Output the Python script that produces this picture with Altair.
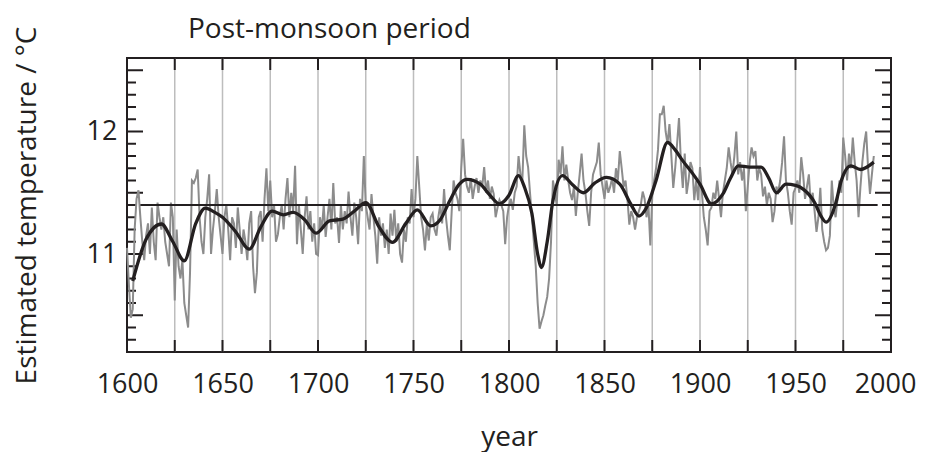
import altair as alt
import pandas as pd

# ---------------- data ----------------
start_year = 1600
annual_temp = [
    11.05, 10.75, 10.48, 10.55, 11.20, 11.45, 11.52, 11.30, 11.10, 10.95,  # 1600s
    11.15, 11.25, 11.00, 11.38, 11.10, 10.95, 11.42, 11.30, 11.20, 11.30,  # 1610s
    11.10, 11.00, 10.90, 11.42, 11.30, 10.62, 11.20, 10.90, 10.80, 10.95,  # 1620s
    10.60, 10.50, 10.40, 10.85, 11.60, 11.58, 11.62, 11.69, 11.30, 11.10,  # 1630s
    11.00, 11.30, 11.45, 11.65, 11.00, 11.20, 11.35, 11.53, 11.30, 11.15,  # 1640s
    11.00, 11.30, 11.40, 11.20, 10.95, 11.30, 11.25, 11.05, 11.38, 11.20,  # 1650s
    11.00, 11.20, 11.10, 10.95, 11.25, 11.35, 10.90, 10.68, 10.85, 11.30,  # 1660s
    11.35, 11.10, 11.45, 11.70, 11.35, 11.60, 11.30, 11.40, 11.10, 11.16,  # 1670s
    11.30, 11.40, 11.20, 11.45, 11.62, 11.30, 11.50, 11.35, 11.72, 11.08,  # 1680s
    11.40, 11.20, 11.00, 11.30, 11.47, 11.20, 11.35, 11.10, 11.25, 11.00,  # 1690s
    10.99, 11.30, 11.20, 11.40, 11.14, 11.30, 11.45, 11.20, 11.58, 11.25,  # 1700s
    11.30, 11.09, 11.40, 11.20, 11.35, 11.25, 11.51, 11.30, 11.15, 11.42,  # 1710s
    11.30, 11.08, 11.45, 11.35, 11.80, 11.40, 11.30, 11.20, 11.49, 11.30,  # 1720s
    11.15, 10.92, 11.30, 11.15, 11.25, 11.05, 11.20, 11.00, 11.33, 11.15,  # 1730s
    11.36, 11.10, 11.25, 11.00, 10.93, 11.20, 11.10, 11.30, 11.25, 11.53,  # 1740s
    11.30, 11.45, 11.80, 11.55, 11.30, 11.20, 11.03, 11.25, 11.11, 11.30,  # 1750s
    11.33, 11.20, 11.15, 11.30, 11.40, 11.25, 11.53, 11.30, 11.15, 11.03,  # 1760s
    11.35, 11.60, 11.50, 11.45, 11.35, 11.70, 11.94, 11.65, 11.55, 11.50,  # 1770s
    11.62, 11.45, 11.55, 11.62, 11.50, 11.60, 11.55, 11.71, 11.50, 11.60,  # 1780s
    11.45, 11.55, 11.49, 11.30, 11.38, 11.44, 11.40, 11.35, 11.08, 11.30,  # 1790s
    11.40, 11.45, 11.36, 11.50, 11.55, 11.80, 11.65, 11.60, 12.05, 11.80,  # 1800s
    11.71, 11.50, 11.30, 11.10, 10.90, 10.60, 10.39, 10.45, 10.50, 10.58,  # 1810s
    10.65, 10.80, 11.10, 11.60, 11.50, 11.40, 11.77, 11.65, 11.88, 11.60,  # 1820s
    11.73, 11.60, 11.50, 11.44, 11.55, 11.31, 11.50, 11.65, 11.82, 11.60,  # 1830s
    11.50, 11.35, 11.23, 11.50, 11.65, 11.70, 11.75, 11.91, 11.65, 11.55,  # 1840s
    11.45, 11.60, 11.50, 11.55, 11.62, 11.50, 11.70, 11.60, 11.84, 11.70,  # 1850s
    11.55, 11.60, 11.45, 11.24, 11.35, 11.30, 11.20, 11.30, 11.35, 11.40,  # 1860s
    11.51, 11.45, 11.30, 11.40, 11.07, 11.47, 11.60, 11.70, 11.85, 12.14,  # 1870s
    12.14, 12.21, 12.00, 11.90, 12.06, 11.80, 11.54, 11.70, 11.90, 12.11,  # 1880s
    11.75, 11.54, 11.82, 11.49, 11.60, 11.75, 11.70, 11.44, 11.60, 11.44,  # 1890s
    11.71, 11.50, 11.30, 11.20, 11.07, 11.35, 11.38, 11.50, 11.45, 11.60,  # 1900s
    11.45, 11.30, 11.50, 11.60, 11.70, 11.87, 11.75, 11.65, 11.80, 12.00,  # 1910s
    11.65, 11.75, 11.60, 11.70, 11.35, 11.55, 11.75, 11.87, 11.80, 11.84,  # 1920s
    11.60, 11.70, 11.65, 11.47, 11.55, 11.40, 11.50, 11.45, 11.26, 11.35,  # 1930s
    11.55, 11.51, 11.60, 11.75, 11.96, 11.60, 11.50, 11.35, 11.24, 11.50,  # 1940s
    11.54, 11.60, 11.50, 11.79, 11.65, 11.45, 11.55, 11.65, 11.40, 11.50,  # 1950s
    11.35, 11.18, 11.30, 11.54, 11.20, 11.10, 11.03, 11.05, 11.15, 11.60,  # 1960s
    11.38, 11.30, 11.45, 11.60, 11.50, 11.95, 11.80, 11.60, 11.82, 11.70,  # 1970s
    11.95, 11.75, 11.60, 11.30, 11.55, 11.75, 11.90, 12.00, 11.70, 11.49,  # 1980s
    11.65, 11.80,                                                          # 1990s
]
annual_years = list(range(start_year, start_year + len(annual_temp)))

smooth_years = [1603, 1610, 1618, 1624, 1630, 1636, 1641, 1646, 1650, 1657,
                1664, 1670, 1676, 1682, 1687, 1693, 1699, 1706, 1713, 1719,
                1725, 1732, 1739, 1746, 1752, 1759, 1764, 1769, 1774, 1778,
                1785, 1790, 1795, 1800, 1805, 1808, 1812, 1815, 1817, 1820,
                1823, 1828, 1833, 1839, 1845, 1851, 1858, 1864, 1868, 1872,
                1877, 1883, 1887, 1891, 1896, 1900, 1906, 1912, 1916, 1920,
                1926, 1932, 1936, 1940, 1945, 1950, 1954, 1960, 1963, 1966,
                1971, 1974, 1979, 1984, 1991]
smooth_temp = [10.78, 11.12, 11.245, 11.10, 10.945, 11.25, 11.375, 11.34, 11.30, 11.18,
               11.04, 11.22, 11.35, 11.32, 11.34, 11.28, 11.17, 11.27, 11.285, 11.35,
               11.42, 11.22, 11.095, 11.25, 11.36, 11.23, 11.28, 11.435, 11.57, 11.61,
               11.57, 11.48, 11.41, 11.48, 11.64, 11.55, 11.33, 11.00, 10.89, 11.10,
               11.435, 11.64, 11.57, 11.50, 11.58, 11.625, 11.57, 11.40, 11.31, 11.38,
               11.60, 11.91, 11.85, 11.76, 11.66, 11.57, 11.41, 11.49, 11.62, 11.72,
               11.71, 11.71, 11.62, 11.50, 11.57, 11.56, 11.53, 11.42, 11.32, 11.26,
               11.41, 11.60, 11.72, 11.69, 11.75]

mean_temp = 11.4
mean_start, mean_end = 1607, 1993

grid_years = [1625, 1650, 1675, 1700, 1725, 1750, 1775, 1800, 1825, 1850,
              1875, 1900, 1925, 1950, 1975]
x_tick_labels = [1600, 1650, 1700, 1750, 1800, 1850, 1900, 1950, 2000]
y_tick_labels = [11, 12]
y_major_ticks = [10.5, 11.0, 11.5, 12.0, 12.5]
y_minor_ticks = [10.3, 10.4, 10.6, 10.7, 10.8, 10.9, 11.1, 11.2, 11.3, 11.4,
                 11.6, 11.7, 11.8, 11.9, 12.1, 12.2, 12.3, 12.4]
title_text = ["Post-monsoon period"]

# ---------------- style ----------------
W, H = 764, 294
FONT = "Open Sans"
INK = "#231f20"

annual_df = pd.DataFrame({"year": annual_years, "temp": annual_temp})
smooth_df = pd.DataFrame({"year": smooth_years, "temp": smooth_temp})
grid_df = pd.DataFrame({"year": grid_years})
major_df = pd.DataFrame({"v": y_major_ticks})
minor_df = pd.DataFrame({"v": y_minor_ticks})
mean_df = pd.DataFrame({"x1": [mean_start], "x2": [mean_end], "y": [mean_temp]})
title_df = pd.DataFrame({"t": title_text})

xscale = alt.Scale(domain=[1600, 2000], nice=False, zero=False)
yscale = alt.Scale(domain=[10.2, 12.6], nice=False, zero=False)

x_axis = alt.Axis(
    values=x_tick_labels, format="d", grid=False, domain=False, ticks=False,
    tickSize=0, labelFontSize=27, labelPadding=19, labelFont=FONT,
    labelColor=INK, labelFlush=False,
    labelOffset={"condition": {"test": "datum.value == 2000", "value": -6},
                 "value": 0},
    title="year", titleFont=FONT,
    titleFontSize=28, titleFontWeight="normal", titleColor=INK,
    titleX=382, titleY=93, titleBaseline="alphabetic", titleAlign="center",
)
y_axis = alt.Axis(
    values=y_tick_labels, format="d", grid=False, domain=False, ticks=False,
    tickSize=0, labelFontSize=27, labelPadding=10, labelFont=FONT,
    labelColor=INK, title="Estimated temperature / °C", titleFont=FONT,
    titleFontSize=28, titleFontWeight="normal", titleColor=INK,
    titleX=-92, titleY=147, titleAngle=270, titleBaseline="alphabetic",
    titleAlign="center",
)

grid = alt.Chart(grid_df).mark_rule(color="#bdbdbd", strokeWidth=1.5).encode(
    x=alt.X("year:Q", scale=xscale, axis=x_axis)
)
xt_top = alt.Chart(grid_df).mark_rule(color=INK, strokeWidth=2).encode(
    x=alt.X("year:Q", scale=xscale), y=alt.value(0), y2=alt.value(12)
)
xt_bot = alt.Chart(grid_df).mark_rule(color=INK, strokeWidth=2).encode(
    x=alt.X("year:Q", scale=xscale), y=alt.value(H - 12), y2=alt.value(H)
)
yl_major = alt.Chart(major_df).mark_rule(color=INK, strokeWidth=2).encode(
    y=alt.Y("v:Q", scale=yscale, axis=y_axis), x=alt.value(0), x2=alt.value(16)
)
yl_minor = alt.Chart(minor_df).mark_rule(color=INK, strokeWidth=2).encode(
    y=alt.Y("v:Q", scale=yscale), x=alt.value(0), x2=alt.value(9)
)
yr_major = alt.Chart(major_df).mark_rule(color=INK, strokeWidth=2).encode(
    y=alt.Y("v:Q", scale=yscale), x=alt.value(W - 16), x2=alt.value(W)
)
yr_minor = alt.Chart(minor_df).mark_rule(color=INK, strokeWidth=2).encode(
    y=alt.Y("v:Q", scale=yscale), x=alt.value(W - 9), x2=alt.value(W)
)
annual = alt.Chart(annual_df).mark_line(color="#8c8c8c", strokeWidth=2).encode(
    x=alt.X("year:Q", scale=xscale), y=alt.Y("temp:Q", scale=yscale)
)
mean_line = alt.Chart(mean_df).mark_rule(color=INK, strokeWidth=1.8).encode(
    x=alt.X("x1:Q", scale=xscale), x2="x2:Q", y=alt.Y("y:Q", scale=yscale)
)
smooth = alt.Chart(smooth_df).mark_line(
    color=INK, strokeWidth=3.3, interpolate="monotone"
).encode(
    x=alt.X("year:Q", scale=xscale), y=alt.Y("temp:Q", scale=yscale)
)
title = alt.Chart(title_df).mark_text(
    align="left", baseline="alphabetic", font=FONT, fontSize=28, color=INK
).encode(text="t:N", x=alt.value(61), y=alt.value(-20))

chart = alt.layer(
    grid, xt_top, xt_bot, yl_major, yl_minor, yr_major, yr_minor,
    annual, mean_line, smooth, title,
).properties(
    width=W, height=H,
    autosize=alt.AutoSizeParams(type="none"),
    padding={"left": 119, "top": 50, "right": 26, "bottom": 100},
    background="white",
).configure_view(stroke=INK, strokeWidth=2)

chart.save("out.html", embed_options={"renderer": "svg", "actions": False})
